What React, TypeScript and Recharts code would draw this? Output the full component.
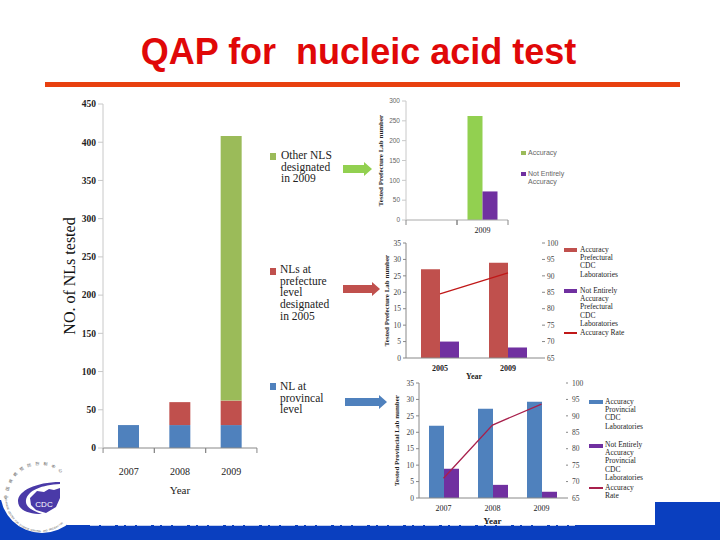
import {
  Bar,
  BarChart,
  ComposedChart,
  Line,
  XAxis,
  YAxis,
} from "recharts";

// main stacked chart
const mainYears = ["2007", "2008", "2009"];
const provincial = [30, 30, 30];
const prefecture = [0, 30, 32];
const otherNls = [0, 0, 346];
const mainTicks = [0, 50, 100, 150, 200, 250, 300, 350, 400, 450];

// top right chart
const topYears = ["", "2009"];
const topAccuracy = [null, 262];
const topNotEntirely = [null, 72];
const topTicks = [0, 50, 100, 150, 200, 250, 300];

// middle right chart
const midYears = ["2005", "2009"];
const midAccuracy = [27, 29];
const midNotEntirely = [5, 3.2];
const midRate = [84.5, 90.9];

// bottom right chart
const lowYears = ["2007", "2008", "2009"];
const lowAccuracy = [22, 27.2, 29.3];
const lowNotEntirely = [8.9, 4, 1.9];
const lowRate = [71, 87.2, 93.6];

const countTicks = [0, 5, 10, 15, 20, 25, 30, 35];
const rateTicks = [65, 70, 75, 80, 85, 90, 95, 100];

const mainData = mainYears.map((year, i) => ({
  year,
  provincial: provincial[i],
  prefecture: prefecture[i],
  other: otherNls[i],
}));
const topData = topYears.map((year, i) => ({
  year,
  accuracy: topAccuracy[i],
  notEntirely: topNotEntirely[i],
}));
const midData = midYears.map((year, i) => ({
  year,
  accuracy: midAccuracy[i],
  notEntirely: midNotEntirely[i],
  rate: midRate[i],
}));
const lowData = lowYears.map((year, i) => ({
  year,
  accuracy: lowAccuracy[i],
  notEntirely: lowNotEntirely[i],
  rate: lowRate[i],
}));

const SERIF = "'Liberation Serif', serif";
const SANS = "'Liberation Sans', sans-serif";
const GREEN = "#9bbb59";
const BRIGHT_GREEN = "#92d050";
const RED = "#c0504d";
const BLUE = "#4f81bd";
const PURPLE = "#7030a0";
const BAND = "#0a3fbf";

// year label under the band, with tick marks on the band edges
function bandTick(half: number, labelDy: number, size: number, weight: string, marks: boolean) {
  return (props: any) => {
    const { x, y, payload } = props;
    return (
      <g>
        {marks && (
          <>
            <line x1={x - half} x2={x - half} y1={y - 8} y2={y - 3} stroke="#888" />
            <line x1={x + half} x2={x + half} y1={y - 8} y2={y - 3} stroke="#888" />
          </>
        )}
        <text
          x={x}
          y={y + labelDy}
          textAnchor="middle"
          fontFamily={SERIF}
          fontSize={size}
          fontWeight={weight}
          fill="#222"
        >
          {payload.value}
        </text>
      </g>
    );
  };
}

function LegendText({ x, y, lines, gap, size, font = SERIF, color = "#222" }: any) {
  return (
    <div
      style={{
        position: "absolute",
        left: x,
        top: y,
        fontFamily: font,
        fontSize: size,
        lineHeight: `${gap}px`,
        color,
        whiteSpace: "nowrap",
      }}
    >
      {lines.map((line: string) => (
        <div key={line}>{line}</div>
      ))}
    </div>
  );
}

function Swatch({ x, y, w, h, color }: any) {
  return (
    <div style={{ position: "absolute", left: x, top: y, width: w, height: h, background: color }} />
  );
}

function Arrow({ x, tip, y, color }: any) {
  const neck = tip - 8;
  return (
    <polygon
      points={`${x},${y - 4} ${neck},${y - 4} ${neck},${y - 7} ${tip},${y} ${neck},${y + 7} ${neck},${y + 4} ${x},${y + 4}`}
      fill={color}
    />
  );
}

// logo lettering, one rotated glyph at a time round the seal
function ArcText({ text, from, to, r, size, font, turn }: any) {
  const chars = Array.from(text as string);
  return (
    <g fontFamily={font} fontSize={size} fill="#555" textAnchor="middle">
      {chars.map((ch, i) => {
        const deg = from + ((to - from) * i) / (chars.length - 1);
        const rad = (deg * Math.PI) / 180;
        const x = 40 + r * Math.cos(rad);
        const y = 497 + r * Math.sin(rad);
        return (
          <text key={i} x={x} y={y} transform={`rotate(${deg + turn} ${x} ${y})`}>
            {ch}
          </text>
        );
      })}
    </g>
  );
}

function Slide() {
  return (
    <svg width={720} height={540} style={{ position: "absolute", left: 0, top: 0 }}>
      <rect x={0} y={525} width={720} height={15} fill={BAND} />
      <rect x={655} y={502} width={65} height={38} fill={BAND} />
      <rect x={0} y={500} width={67} height={40} fill={BAND} />
      <line x1={90} x2={575} y1={525} y2={525} stroke="#fff" strokeWidth={1.5} strokeDasharray="9 2 14 3 6 2" />
      <circle cx={42} cy={491} r={42} fill="#fff" />
      <rect x={45} y={82} width={635} height={5} fill="#e8400f" />

      <Arrow x={343} tip={372} y={169} color={BRIGHT_GREEN} />
      <Arrow x={343} tip={380} y={289} color={RED} />
      <Arrow x={345} tip={387} y={402} color={BLUE} />

      {/* CDC logo */}
      <path d="M 60 482 C 36 482 18 491 18 501 C 18 510 28 514 42 514 C 33 511 25 507 26 500 C 28 490 42 485 60 484 Z" fill="#4a3aa8" />
      <path d="M 30 498 L 37 491 L 44 492 L 49 489 L 54 490 L 60 488 L 60 498 L 56 507 L 46 513 L 36 510 L 31 505 Z" fill="#4a3aa8" />
      <text x={44} y={507} textAnchor="middle" fontFamily={SANS} fontSize={8} fill="#fff">CDC</text>
      <ArcText text="中国疾病预防控制中心" from={180} to={308} r={32} size={4} font="'Noto Sans CJK SC'" turn={90} />
      <ArcText text="CHINESE CENTER FOR DISEASE CONTROL AND PREVENTION" from={175} to={50} r={35} size={2.6} font={SANS} turn={-90} />
    </svg>
  );
}

export default function App() {
  return (
    <div
      style={{
        position: "absolute",
        left: 0,
        top: 0,
        width: 720,
        height: 540,
        background: "#fff",
        overflow: "hidden",
      }}
    >
      <Slide />

      <div
        style={{
          position: "absolute",
          left: 0,
          top: 30,
          width: 717,
          textAlign: "center",
          fontFamily: SANS,
          fontWeight: "bold",
          fontSize: 36,
          lineHeight: "44px",
          color: "#e00808",
          whiteSpace: "pre",
        }}
      >
        QAP for  nucleic acid test
      </div>

      {/* left stacked chart */}
      <div style={{ position: "absolute", left: 60, top: 95 }}>
        <BarChart
          width={205}
          height={410}
          data={mainData}
          margin={{ top: 9, right: 8, bottom: 7, left: 0 }}
          barCategoryGap={15}
        >
          <XAxis
            dataKey="year"
            height={50}
            stroke="#888"
            tickLine={false}
            tick={bandTick(25.6, 19, 10, "normal", true)}
            label={{ value: "Year", position: "insideBottom", offset: 4, fontFamily: SERIF, fontSize: 11, fill: "#222" }}
          />
          <YAxis
            width={43}
            domain={[0, 450]}
            ticks={mainTicks}
            stroke="#c8c8c8"
            tickSize={5}
            tick={{ fontFamily: SERIF, fontSize: 9.5, fontWeight: "bold", fill: "#222" }}
            label={{
              value: "NO. of NLs tested",
              angle: -90,
              position: "insideLeft",
              offset: 9,
              fontFamily: SERIF,
              fontSize: 16,
              fill: "#111",
              style: { textAnchor: "middle" },
            }}
          />
          <Bar dataKey="provincial" stackId="nl" fill={BLUE} isAnimationActive={false} />
          <Bar dataKey="prefecture" stackId="nl" fill={RED} isAnimationActive={false} />
          <Bar dataKey="other" stackId="nl" fill={GREEN} isAnimationActive={false} />
        </BarChart>
      </div>

      <Swatch x={270} y={153} w={6} h={7} color={GREEN} />
      <LegendText x={281} y={150} lines={["Other NLS", "designated", "in 2009"]} gap={11.6} size={11.5} />
      <Swatch x={270} y={268} w={6} h={7} color={RED} />
      <LegendText x={280} y={264} lines={["NLs at", "prefecture", "level", "designated", "in 2005"]} gap={11.7} size={11.5} />
      <Swatch x={270} y={383} w={6} h={7} color={BLUE} />
      <LegendText x={280} y={381} lines={["NL at", "provincal", "level"]} gap={11.7} size={11.5} />

      {/* top right */}
      <div style={{ position: "absolute", left: 372, top: 95 }}>
        <BarChart
          width={140}
          height={140}
          data={topData}
          margin={{ top: 6, right: 4, bottom: 0, left: 0 }}
          barCategoryGap={10.5}
          barGap={0}
        >
          <XAxis
            dataKey="year"
            height={15}
            stroke="#aaa"
            tickLine={false}
            tick={bandTick(25.5, 5, 8, "normal", true)}
          />
          <YAxis
            width={34}
            domain={[0, 300]}
            ticks={topTicks}
            stroke="#c8c8c8"
            tickSize={4}
            tick={{ fontFamily: SANS, fontSize: 6.5, fill: "#666" }}
            label={{
              value: "Tested Prefecture Lab number",
              angle: -90,
              position: "insideLeft",
              offset: 9,
              fontFamily: SERIF,
              fontSize: 7,
              fontWeight: "bold",
              fill: "#222",
              style: { textAnchor: "middle" },
            }}
          />
          <Bar dataKey="accuracy" fill={BRIGHT_GREEN} isAnimationActive={false} />
          <Bar dataKey="notEntirely" fill={PURPLE} isAnimationActive={false} />
        </BarChart>
      </div>

      <Swatch x={521} y={151} w={5} h={4} color={GREEN} />
      <LegendText x={528} y={149} lines={["Accuracy"]} gap={8} size={7} font={SANS} color="#666" />
      <Swatch x={521} y={172} w={5} h={4} color={PURPLE} />
      <LegendText x={528} y={170} lines={["Not Entirely", "Accuracy"]} gap={8} size={7} font={SANS} color="#666" />

      {/* middle right */}
      <div style={{ position: "absolute", left: 375, top: 238 }}>
        <ComposedChart
          width={190}
          height={145}
          data={midData}
          margin={{ top: 5, right: 0, bottom: 0, left: 0 }}
          barCategoryGap={15}
          barGap={0}
        >
          <XAxis
            dataKey="year"
            height={25}
            stroke="#888"
            tickLine={false}
            tick={bandTick(34, 5, 8, "bold", false)}
            label={{ value: "Year", position: "insideBottom", offset: 4, fontFamily: SERIF, fontSize: 8, fontWeight: "bold", fill: "#222" }}
          />
          <YAxis
            yAxisId="count"
            width={31}
            domain={[0, 35]}
            ticks={countTicks}
            stroke="#888"
            tickSize={3}
            tick={{ fontFamily: SERIF, fontSize: 7.5, fill: "#444" }}
            label={{
              value: "Tested Prefecture Lab number",
              angle: -90,
              position: "insideLeft",
              offset: 12,
              fontFamily: SERIF,
              fontSize: 7,
              fontWeight: "bold",
              fill: "#222",
              style: { textAnchor: "middle" },
            }}
          />
          <YAxis
            yAxisId="rate"
            orientation="right"
            width={23}
            domain={[65, 100]}
            ticks={rateTicks}
            axisLine={false}
            stroke="#888"
            tickSize={3}
            tick={{ fontFamily: SERIF, fontSize: 7.5, fill: "#444" }}
          />
          <Bar yAxisId="count" dataKey="accuracy" fill={RED} isAnimationActive={false} />
          <Bar yAxisId="count" dataKey="notEntirely" fill={PURPLE} isAnimationActive={false} />
          <Line yAxisId="rate" dataKey="rate" type="linear" stroke="#c01818" strokeWidth={1.3} dot={false} isAnimationActive={false} />
        </ComposedChart>
      </div>

      <Swatch x={564} y={248} w={13} h={4} color={RED} />
      <LegendText x={580} y={246} lines={["Accuracy", "Prefectural", "CDC", "Laboratories"]} gap={8.2} size={7.5} />
      <Swatch x={564} y={289} w={13} h={4} color={PURPLE} />
      <LegendText x={580} y={287} lines={["Not Entirely", "Accuracy", "Prefectural", "CDC", "Laboratories"]} gap={8.2} size={7.5} />
      <Swatch x={564} y={332} w={13} h={1.5} color="#c01818" />
      <LegendText x={580} y={329} lines={["Accuracy Rate"]} gap={8.2} size={7.5} />

      {/* bottom right, sits on a white box */}
      <div style={{ position: "absolute", left: 385, top: 378 }}>
        <ComposedChart
          width={210}
          height={150}
          data={lowData}
          margin={{ top: 5, right: 0, bottom: 0, left: 0 }}
          barCategoryGap={10}
          barGap={0}
        >
          <XAxis
            dataKey="year"
            height={30}
            stroke="#888"
            tickLine={false}
            tick={bandTick(24.5, 5, 8, "normal", false)}
            label={{ value: "Year", position: "insideBottom", offset: 4, fontFamily: SERIF, fontSize: 9, fontWeight: "bold", fill: "#222" }}
          />
          <YAxis
            yAxisId="count"
            width={34}
            domain={[0, 35]}
            ticks={countTicks}
            stroke="#888"
            tickSize={3}
            tick={{ fontFamily: SERIF, fontSize: 7.5, fill: "#444" }}
            label={{
              value: "Tested Provincial Lab number",
              angle: -90,
              position: "insideLeft",
              offset: 12,
              fontFamily: SERIF,
              fontSize: 7,
              fontWeight: "bold",
              fill: "#222",
              style: { textAnchor: "middle" },
            }}
          />
          <YAxis
            yAxisId="rate"
            orientation="right"
            width={29}
            domain={[65, 100]}
            ticks={rateTicks}
            axisLine={false}
            stroke="#888"
            tickSize={2}
            tickMargin={4}
            tick={{ fontFamily: SERIF, fontSize: 7.5, fill: "#444" }}
          />
          <Bar yAxisId="count" dataKey="accuracy" fill={BLUE} isAnimationActive={false} />
          <Bar yAxisId="count" dataKey="notEntirely" fill={PURPLE} isAnimationActive={false} />
          <Line yAxisId="rate" dataKey="rate" type="linear" stroke="#a8204c" strokeWidth={1.3} dot={false} isAnimationActive={false} />
        </ComposedChart>
      </div>

      <Swatch x={589} y={400} w={14} h={4} color={BLUE} />
      <LegendText x={605} y={398} lines={["Accuracy", "Provincial", "CDC", "Laboratories"]} gap={8.2} size={7.5} />
      <Swatch x={589} y={444} w={14} h={4} color={PURPLE} />
      <LegendText x={605} y={441} lines={["Not Entirely", "Accuracy", "Provincial", "CDC", "Laboratories"]} gap={8.2} size={7.5} />
      <Swatch x={589} y={487} w={14} h={1.5} color="#a8204c" />
      <LegendText x={605} y={484} lines={["Accuracy", "Rate"]} gap={8.2} size={7.5} />
    </div>
  );
}
